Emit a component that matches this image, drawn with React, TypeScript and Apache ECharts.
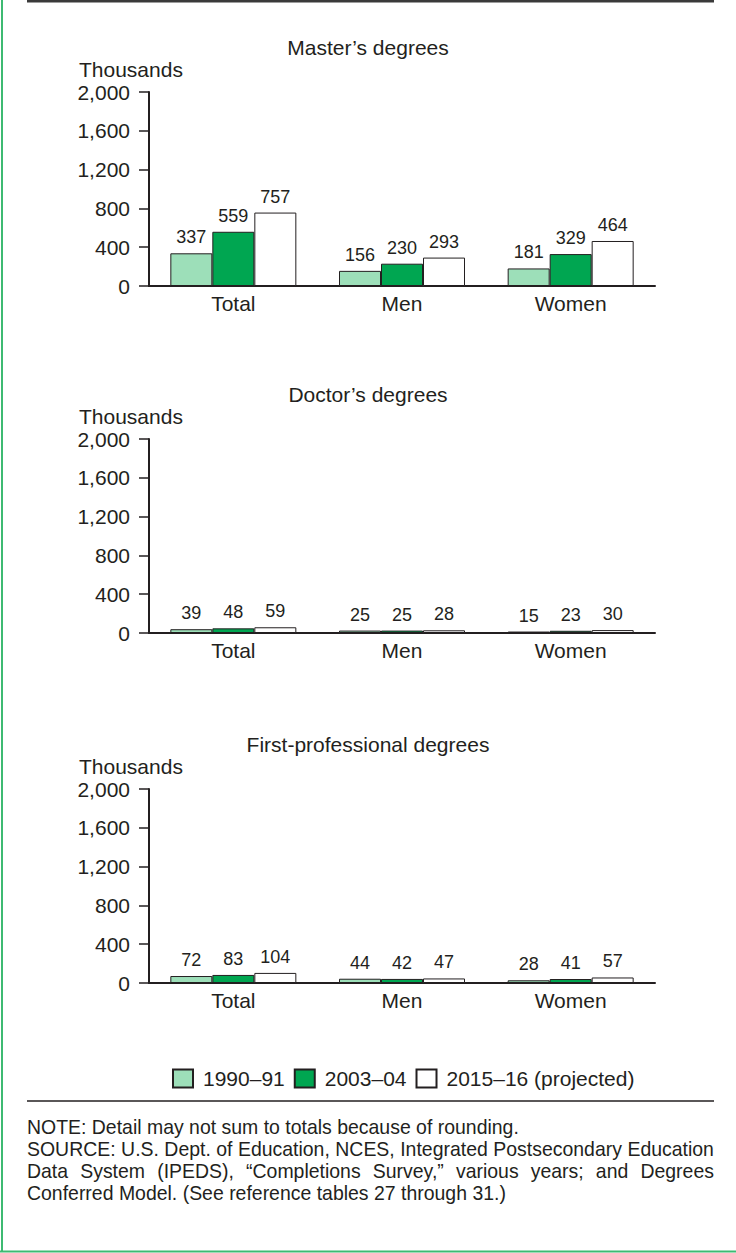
import React, { useEffect, useRef } from "react";
import * as echarts from "echarts";

// ---------- DATA ----------
const categories = ["Total", "Men", "Women"];
const seriesNames = ["1990–91", "2003–04", "2015–16 (projected)"];
const panelTitles = ["Master’s degrees", "Doctor’s degrees", "First-professional degrees"];
const yAxisTitle = "Thousands";
const yMin = 0;
const yMax = 2000;
const yInterval = 400;

const masters1990 = [337, 156, 181];
const masters2003 = [559, 230, 329];
const masters2015 = [757, 293, 464];

const doctors1990 = [39, 25, 15];
const doctors2003 = [48, 25, 23];
const doctors2015 = [59, 28, 30];

const firstProf1990 = [72, 44, 28];
const firstProf2003 = [83, 42, 41];
const firstProf2015 = [104, 47, 57];

const noteLines = [
  "NOTE: Detail may not sum to totals because of rounding.",
  "SOURCE: U.S. Dept. of Education, NCES, Integrated Postsecondary Education",
  "Data System (IPEDS), “Completions Survey,” various years; and Degrees",
  "Conferred Model. (See reference tables 27 through 31.)",
];
const noteJustify = [false, true, true, false];

// ---------- STYLE ----------
const FONT = '"Liberation Sans", Arial, Helvetica, sans-serif';
const INK = "#231f20";
const seriesColors = ["#9ddfb9", "#00a651", "#ffffff"];
const gridTops = [92, 439, 789];
const gridLeft = 149;
const gridWidth = 506;
const gridHeight = 194;

export default function App() {
  const ref = useRef<HTMLDivElement>(null);

  useEffect(() => {
    if (!ref.current) return;
    const chart = echarts.init(ref.current, null, { renderer: "svg" });

    const panelData = [
      [masters1990, masters2003, masters2015],
      [doctors1990, doctors2003, doctors2015],
      [firstProf1990, firstProf2003, firstProf2015],
    ];

    // measuring for the note block
    const canvas = document.createElement("canvas");
    const ctx = canvas.getContext("2d")!;
    const noteSize = 20;
    ctx.font = `${noteSize}px "Liberation Sans"`;
    const noteLeft = 27;
    const noteRight = 714;
    const noteWidth = noteRight - noteLeft;
    const baseScale = noteWidth / ctx.measureText(noteLines[1]).width;
    const noteTop = 1127;
    const noteStep = 22;

    const graphics: any[] = [];
    // frame lines
    graphics.push({
      type: "line",
      shape: { x1: 27, y1: 1.2, x2: 714, y2: 1.2 },
      style: { stroke: "#3a3a3a", lineWidth: 2.4 },
    });
    graphics.push({
      type: "line",
      shape: { x1: 2, y1: 0, x2: 2, y2: 1252 },
      style: { stroke: "#3dba72", lineWidth: 2 },
    });
    graphics.push({
      type: "line",
      shape: { x1: 0, y1: 1251.5, x2: 736, y2: 1251.5 },
      style: { stroke: "#3dba72", lineWidth: 2 },
    });
    graphics.push({
      type: "line",
      shape: { x1: 27, y1: 1101, x2: 714, y2: 1101 },
      style: { stroke: INK, lineWidth: 1.5 },
    });
    // axis unit titles
    gridTops.forEach((t) => {
      graphics.push({
        type: "text",
        x: 79,
        y: t - 23,
        style: {
          text: yAxisTitle,
          fontSize: 21,
          fontFamily: FONT,
          fill: INK,
          verticalAlign: "middle",
        },
      });
    });
    // notes
    noteLines.forEach((line, i) => {
      const y = noteTop + i * noteStep;
      if (noteJustify[i]) {
        const words = line.split(" ");
        const widths = words.map((w) => ctx.measureText(w).width * baseScale);
        const total = widths.reduce((a, b) => a + b, 0);
        const gap = (noteWidth - total) / (words.length - 1);
        let x = noteLeft;
        words.forEach((w, k) => {
          graphics.push({
            type: "text",
            x,
            y,
            scaleX: baseScale,
            style: {
              text: w,
              fontSize: noteSize,
              fontFamily: FONT,
              fill: INK,
              verticalAlign: "middle",
            },
          });
          x += widths[k] + gap;
        });
      } else {
        graphics.push({
          type: "text",
          x: noteLeft,
          y,
          scaleX: baseScale,
          style: {
            text: line,
            fontSize: noteSize,
            fontFamily: FONT,
            fill: INK,
            verticalAlign: "middle",
          },
        });
      }
    });

    const option: any = {
      animation: false,
      backgroundColor: "#ffffff",
      textStyle: { fontFamily: FONT, color: INK },
      title: panelTitles.map((t, i) => ({
        text: t,
        left: "center",
        top: gridTops[i] - 60,
        textStyle: { fontSize: 21, fontWeight: "normal", color: INK, fontFamily: FONT },
      })),
      legend: {
        data: seriesNames,
        left: 167,
        top: 1063,
        icon: "rect",
        itemWidth: 20,
        itemHeight: 18,
        itemGap: 9,
        textStyle: { fontSize: 21, color: INK, fontFamily: FONT, padding: [0, 0, 0, 5] },
      },
      grid: gridTops.map((t) => ({
        left: gridLeft,
        top: t,
        width: gridWidth,
        height: gridHeight,
      })),
      xAxis: gridTops.map((_, i) => ({
        type: "category",
        gridIndex: i,
        data: categories,
        axisLine: { lineStyle: { color: INK, width: 2 } },
        axisTick: { show: false },
        axisLabel: { fontSize: 21, color: INK, margin: 7, fontFamily: FONT },
      })),
      yAxis: gridTops.map((_, i) => ({
        type: "value",
        gridIndex: i,
        min: yMin,
        max: yMax,
        interval: yInterval,
        axisLine: { show: true, lineStyle: { color: INK, width: 2 } },
        axisTick: { show: true, length: 10, lineStyle: { color: INK, width: 1.5 } },
        splitLine: { show: false },
        axisLabel: {
          fontSize: 21,
          color: INK,
          margin: 19,
          fontFamily: FONT,
          formatter: (v: number) => v.toLocaleString("en-US"),
        },
      })),
      series: panelData.flatMap((sets, i) =>
        sets.map((d, j) => ({
          type: "bar",
          name: seriesNames[j],
          xAxisIndex: i,
          yAxisIndex: i,
          data: d,
          barWidth: 42,
          barGap: "0%",
          itemStyle: { color: seriesColors[j], borderColor: INK, borderWidth: 1 },
          label: {
            show: true,
            position: "top",
            distance: 7,
            fontSize: 18,
            color: INK,
            fontFamily: FONT,
          },
        }))
      ),
      graphic: graphics,
    };

    chart.setOption(option);
    return () => chart.dispose();
  }, []);

  return (
    <div
      ref={ref}
      style={{ position: "absolute", left: 0, top: 0, width: 736, height: 1253 }}
    />
  );
}
